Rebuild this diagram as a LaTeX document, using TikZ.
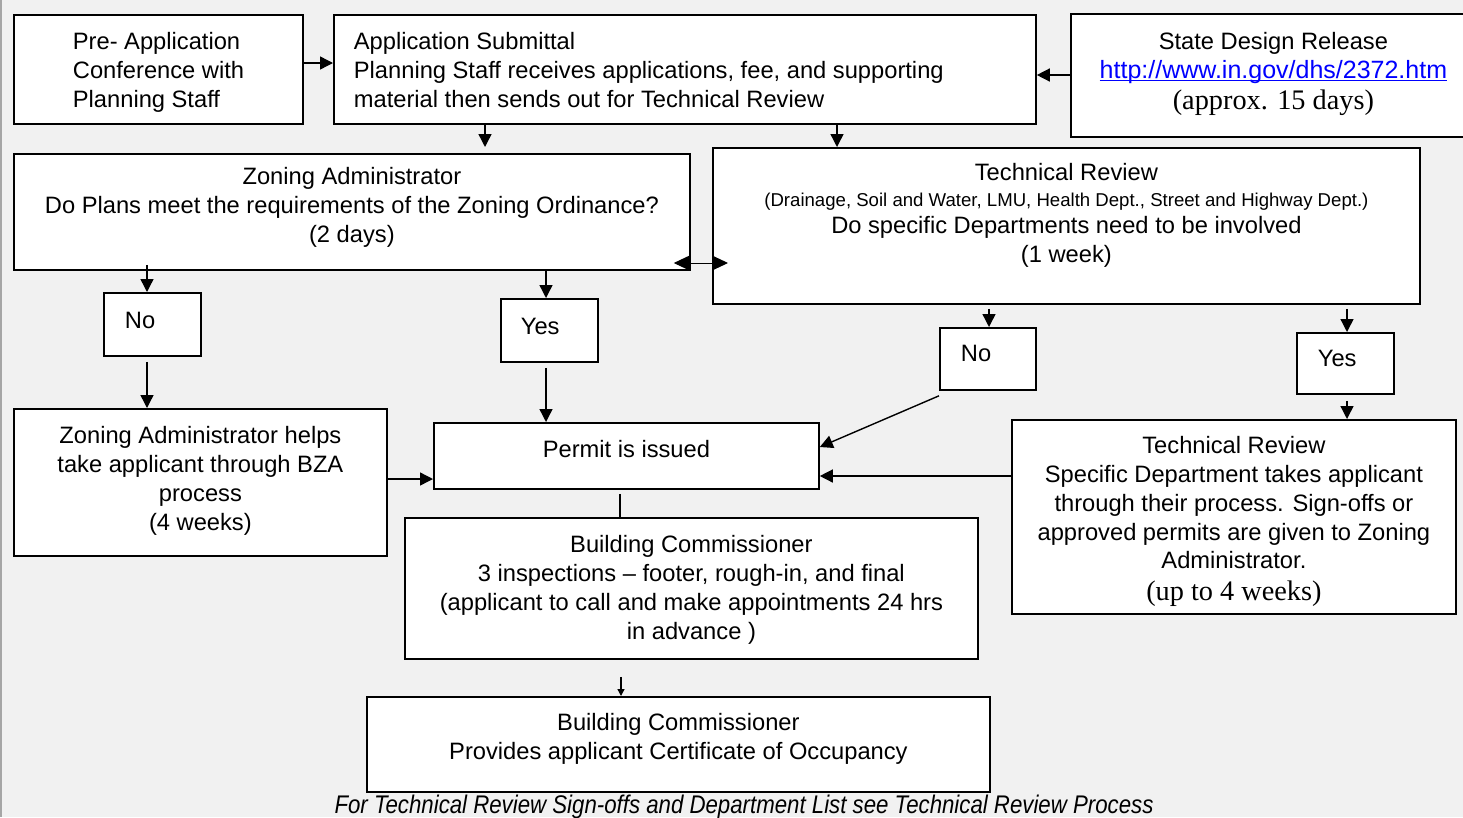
\documentclass[tikz,border=0pt]{standalone}
\usepackage{fontspec}
\setmainfont{Liberation Sans}
\newfontfamily\tnr{Liberation Serif}
\usetikzlibrary{arrows.meta}
\definecolor{bgc}{HTML}{F1F1F1}
\definecolor{edgegray}{HTML}{A6A6A6}
\definecolor{urlblue}{HTML}{0000FF}
\newcommand\mf{\fontsize{23.7}{28.7}\selectfont}
\newcommand\smf{\fontsize{18.6}{22}\selectfont}
\newcommand\tmf{\tnr\fontsize{28.3}{32}\selectfont}
\newcommand\umf{\fontsize{25}{28.7}\selectfont}
% width, height, alignment, first baseline offset, text
\newcommand\bt[5]{\parbox[c][#2pt][t]{#1pt}{#3\rule{0pt}{#4pt}#5}}
\newcommand\ulink[1]{\leavevmode\setbox0=\hbox{#1}\rlap{\rule[-3pt]{\wd0}{1.3pt}}\box0}
\begin{document}
\begin{tikzpicture}[x=1pt, y=-1pt,
  flowbox/.style={draw=black, line width=1.8pt, fill=white, inner sep=0pt, anchor=north west, font=\mf},
  arr/.style={line width=1.4pt, -{Triangle[length=13pt,width=13pt]}},
  arrsmall/.style={line width=1.3pt, -{Triangle[length=7pt,width=7pt]}},
  dbl/.style={line width=1pt, {Triangle[length=15pt,width=14pt]}-{Triangle[length=15pt,width=14pt]}},
  conn/.style={line width=1.2pt}]
\useasboundingbox (0,0) rectangle (1463,817);
\clip (0,0) rectangle (1463,817);
\fill[bgc] (0,0) rectangle (1463,817);
\fill[edgegray] (0,0) rectangle (2,817);

% boxes
\node[flowbox] (pre) at (13,14) {\bt{289}{109}{\raggedright\leftskip=59pt\relax}{35}{Pre- Application\\Conference with\\Planning Staff}};
\node[flowbox] (app) at (333,14) {\bt{702}{109}{\raggedright\leftskip=20pt\relax}{35}{Application Submittal\\Planning Staff receives applications, fee, and supporting\\material then sends out for Technical Review}};
\node[flowbox] (state) at (1070,13) {\bt{405}{123}{\centering}{35.5}{State Design Release\\{\umf\color{urlblue}\ulink{http://www.in.gov/dhs/2372.htm}}\\[2.3pt]{\tmf (approx. 15 days)}}};
\node[flowbox] (zon) at (13,153) {\bt{676}{116}{\centering}{31}{Zoning Administrator\\Do Plans meet the requirements of the Zoning Ordinance?\\(2 days)}};
\node[flowbox] (tech) at (712,147) {\bt{707}{156}{\centering}{33}{Technical Review\\[-2.7pt]{\smf (Drainage, Soil and Water, LMU, Health Dept., Street and Highway Dept.)}\\[-1.7pt]Do specific Departments need to be involved\\(1 week)}};
\node[flowbox] (noL) at (103,292) {\bt{97}{63}{\raggedright\leftskip=21pt\relax}{36}{No}};
\node[flowbox] (yesL) at (500,298) {\bt{97}{63}{\raggedright\leftskip=20pt\relax}{36}{Yes}};
\node[flowbox] (noR) at (939,327) {\bt{96}{62}{\raggedright\leftskip=21pt\relax}{34}{No}};
\node[flowbox] (yesR) at (1296,332) {\bt{97}{61}{\raggedright\leftskip=21pt\relax}{34}{Yes}};
\node[flowbox] (zah) at (13,408) {\bt{373}{147}{\centering}{35}{Zoning Administrator helps\\take applicant through BZA\\process\\(4 weeks)}};
\node[flowbox] (permit) at (433,422) {\bt{385}{66}{\centering}{35}{Permit is issued}};
\node[flowbox] (tr2) at (1011,419) {\bt{444}{194}{\centering}{34}{Technical Review\\Specific Department takes applicant\\through their process. Sign-offs or\\approved permits are given to Zoning\\Administrator.\\[3.5pt]{\tmf (up to 4 weeks)}}};
\node[flowbox] (bc) at (404,517) {\bt{573}{141}{\centering}{35}{Building Commissioner\\3 inspections – footer, rough-in, and final\\(applicant to call and make appointments 24 hrs\\in advance )}};
\node[flowbox] (fbc) at (366,696) {\bt{623}{95}{\centering}{34}{Building Commissioner\\Provides applicant Certificate of Occupancy}};
\node[anchor=base, inner sep=0pt, font=\fontsize{25.5}{30}\selectfont\itshape] (note) at (744,813) {\scalebox{0.872}[1]{For Technical Review Sign-offs and Department List see Technical Review Process}};

% connectors
\draw[arr] (pre.east |- 0,63) -- (app.west |- 0,63);
\draw[arr] (state.west |- 0,75) -- (app.east |- 0,75);
\draw[arr, shorten >=6pt] (485,0 |- app.south) -- (485,0 |- zon.north);
\draw[arr] (837,0 |- app.south) -- (837,0 |- tech.north);
\draw[dbl, shorten <=-17pt, shorten >=-16pt] (zon.east |- 0,263) -- (tech.west |- 0,263);
\draw[arr, shorten <=-6pt] (147,0 |- zon.south) -- (147,0 |- noL.north);
\draw[arr, shorten <=5pt] (147,0 |- noL.south) -- (147,0 |- zah.north);
\draw[arr] (546,0 |- zon.south) -- (546,0 |- yesL.north);
\draw[arr, shorten <=5pt] (546,0 |- yesL.south) -- (546,0 |- permit.north);
\draw[arr, shorten <=4pt] (989,0 |- tech.south) -- (989,0 |- noR.north);
\draw[arr, shorten <=4pt] (1347,0 |- tech.south) -- (1347,0 |- yesR.north);
\draw[arr, shorten <=6pt] (1347,0 |- yesR.south) -- (1347,0 |- tr2.north);
\draw[arr] ([yshift=-5pt]noR.south west) -- (permit.east |- 0,447);
\draw[arr] (zah.east |- 0,479) -- (permit.west |- 0,479);
\draw[arr] (tr2.west |- 0,476) -- (permit.east |- 0,476);
\draw[conn, shorten <=4pt] (620,0 |- permit.south) -- (620,0 |- bc.north);
\draw[arrsmall, shorten <=17pt] (621,0 |- bc.south) -- (621,0 |- fbc.north);
\end{tikzpicture}
\end{document}
